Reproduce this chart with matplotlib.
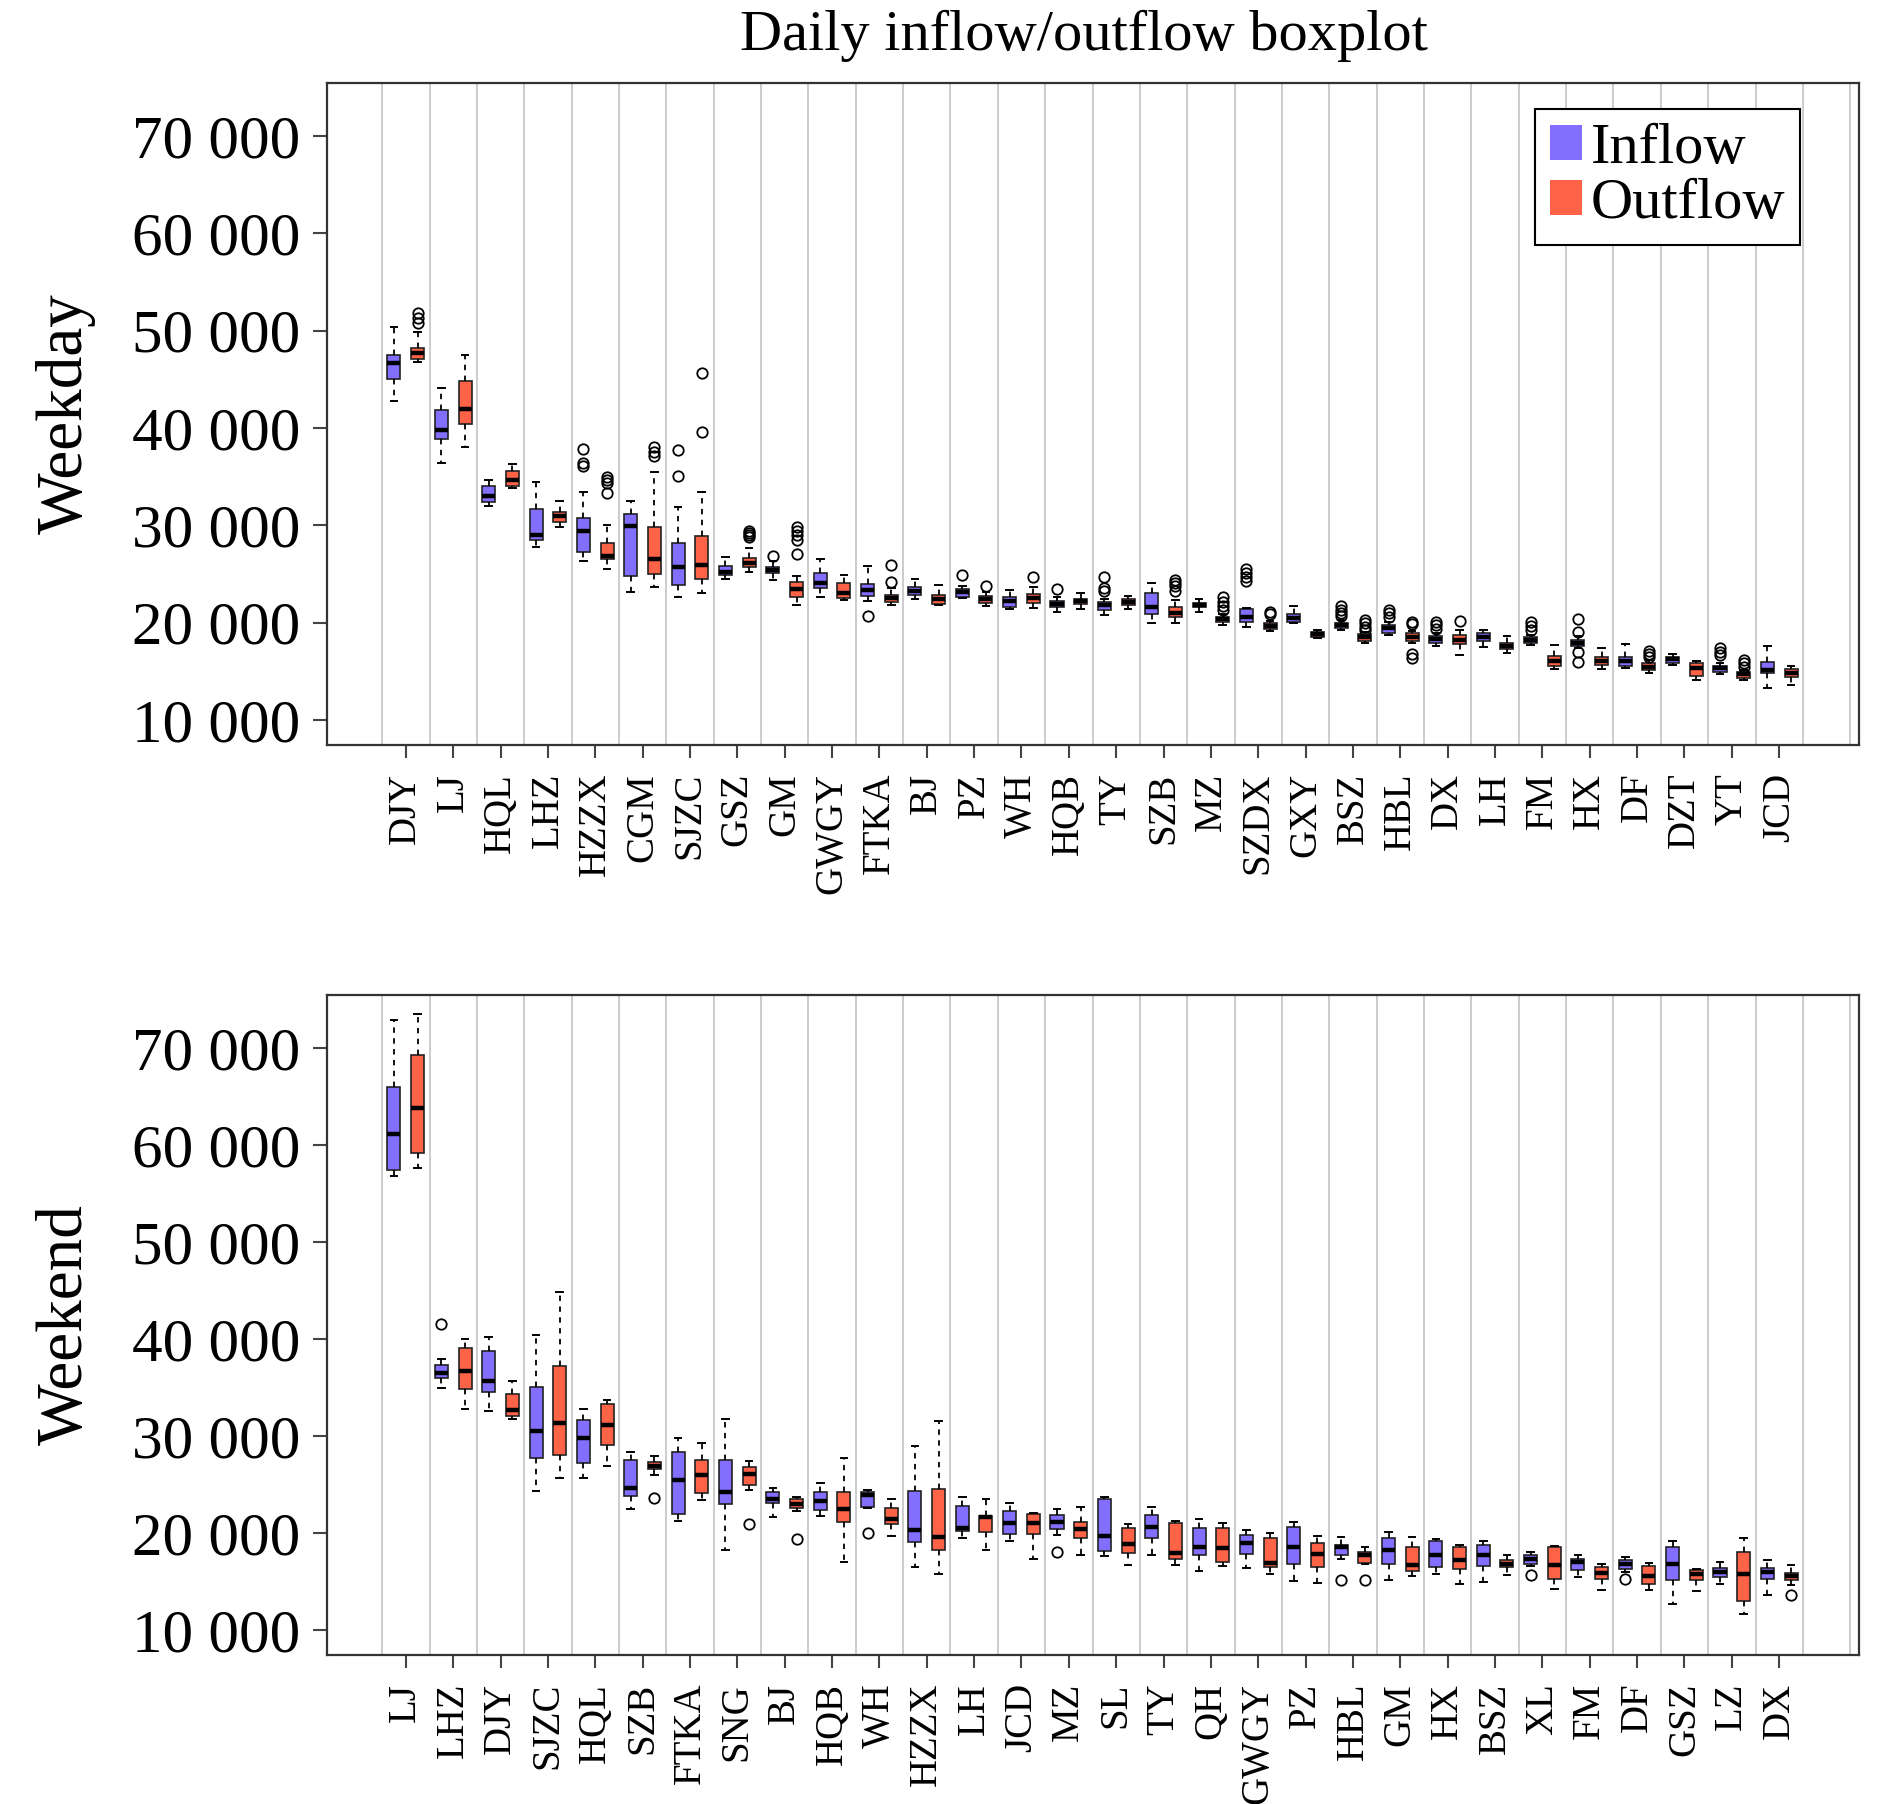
import matplotlib
matplotlib.use("Agg")
import matplotlib.pyplot as plt
from matplotlib.patches import Patch
from matplotlib.ticker import FuncFormatter

plt.rcParams['font.family'] = ['Liberation Serif', 'DejaVu Serif']

# ---- data (whislo, q1, med, q3, whishi) ----
wd_labels = ['DJY', 'LJ', 'HQL', 'LHZ', 'HZZX', 'CGM', 'SJZC', 'GSZ', 'GM', 'GWGY',
             'FTKA', 'BJ', 'PZ', 'WH', 'HQB', 'TY', 'SZB', 'MZ', 'SZDX', 'GXY',
             'BSZ', 'HBL', 'DX', 'LH', 'FM', 'HX', 'DF', 'DZT', 'YT', 'JCD']
wd_in = [(42800, 45000, 46640, 47500, 50400), (36440, 38840, 39800, 41900, 44150),
         (31990, 32430, 33050, 34040, 34660), (27800, 28490, 29040, 31710, 34490),
         (26370, 27230, 29450, 30790, 33460), (23180, 24800, 29930, 31130, 32500),
         (22670, 23840, 25750, 28220, 31920), (24490, 24900, 25170, 25860, 26710),
         (24380, 25070, 25410, 25750, 26300), (22640, 23530, 24100, 25150, 26550),
         (22200, 22780, 23350, 23970, 25800), (22400, 22840, 23285, 23695, 24500),
         (22490, 22670, 23200, 23420, 23750), (21370, 21572, 22258, 22671, 23347),
         (21128, 21643, 21915, 22217, 22641), (20785, 21300, 21814, 22086, 22439),
         (19929, 20887, 21643, 23014, 24103), (21128, 21572, 21814, 22056, 22429),
         (19515, 20100, 20614, 21400, 21532), (19929, 20100, 20513, 20856, 21743),
         (19243, 19485, 19757, 20000, 20322), (18708, 18971, 19414, 19757, 20120),
         (17600, 17942, 18285, 18628, 18910), (17529, 18143, 18557, 18971, 19243),
         (17700, 17871, 18214, 18486, 18708), (17398, 17600, 17942, 18214, 18608),
         (15380, 15542, 16087, 16500, 17771), (15633, 15815, 16228, 16500, 16772),
         (14776, 14957, 15300, 15542, 15885), (13243, 14786, 15129, 15986, 17600)]
wd_in_out = [[], [], [], [], [36130, 36440, 37810], [], [35100, 37740], [], [26850], [],
             [20650], [], [24890], [], [23417], [23286, 23518, 24718], [], [],
             [24315, 24718, 25132, 25505], [], [20685, 20957, 21300, 21703],
             [20614, 20957, 21300], [19314, 19757, 20100], [], [19243, 19656, 20100],
             [15986, 17015, 19071, 20342], [], [], [16672, 17015, 17357], []]
wd_out = [(46800, 47100, 47740, 48250, 49900), (38080, 40380, 41950, 44860, 47500),
          (33800, 34070, 34660, 35620, 36270), (29860, 30380, 30960, 31340, 32500),
          (25480, 26510, 26880, 28150, 30030), (23700, 25000, 26510, 29790, 35510),
          (23010, 24450, 25920, 28940, 33390), (25170, 25750, 26160, 26680, 27640),
          (21820, 22670, 23420, 24210, 24800), (22300, 22550, 23100, 24100, 24900),
          (21810, 22085, 22495, 22840, 23523), (21780, 21950, 22410, 22840, 23866),
          (21710, 21985, 22420, 22742, 23185), (21471, 21985, 22500, 22943, 23700),
          (21401, 21915, 22258, 22429, 23075), (21370, 21814, 22157, 22399, 22742),
          (19929, 20614, 21028, 21572, 22328), (19757, 20029, 20342, 20614, 20927),
          (19112, 19314, 19656, 20000, 20221), (18406, 18557, 18799, 19000, 19243),
          (17871, 18143, 18557, 18829, 19011), (17871, 18143, 18557, 18900, 19112),
          (16671, 17801, 18214, 18729, 19213), (16843, 17257, 17600, 17942, 18628),
          (15230, 15542, 16087, 16571, 17700), (15230, 15643, 16087, 16430, 17357),
          (14786, 15129, 15471, 15815, 16188), (14100, 14514, 15300, 15885, 16087),
          (14070, 14271, 14715, 14957, 15179), (13586, 14443, 14856, 15200, 15583)]
wd_out_out = [[50800, 51300, 51800], [], [], [], [33290, 34320, 34660, 35000],
              [37120, 37570, 38080], [39590, 45680], [28800, 29000, 29200, 29450],
              [27050, 28500, 29000, 29400, 29860], [], [24208, 25920], [], [23800],
              [24718], [], [], [23246, 23750, 24052, 24375], [21300, 21703, 22157, 22600],
              [20887, 21128], [], [19243, 19586, 19929, 20271],
              [16328, 16772, 19858, 20100], [20201], [], [], [],
              [16430, 16772, 17085], [], [15401, 15815, 16157], []]

we_labels = ['LJ', 'LHZ', 'DJY', 'SJZC', 'HQL', 'SZB', 'FTKA', 'SNG', 'BJ', 'HQB',
             'WH', 'HZZX', 'LH', 'JCD', 'MZ', 'SL', 'TY', 'QH', 'GWGY', 'PZ',
             'HBL', 'GM', 'HX', 'BSZ', 'XL', 'FM', 'DF', 'GSZ', 'LZ', 'DX']
we_in = [(56816, 57446, 61143, 65974, 72905), (34960, 35990, 36470, 37360, 37943),
         (32561, 34515, 35646, 38800, 40171), (24334, 27728, 30505, 35030, 40446),
         (25671, 27213, 29785, 31601, 32733), (22517, 23786, 24643, 27488, 28345),
         (21249, 22003, 25431, 28345, 29819), (18232, 23032, 24231, 27488, 31773),
         (21653, 23127, 23541, 24178, 24592), (21744, 22370, 23339, 24178, 25102),
         (22550, 22703, 23966, 24178, 24470), (16483, 19053, 20320, 24369, 29004),
         (19502, 20254, 20532, 22824, 23753), (19159, 19916, 21007, 22309, 23067),
         (19805, 20431, 21178, 21865, 22481), (17583, 18098, 19739, 23510, 23683),
         (17684, 19472, 20597, 21865, 22724), (16068, 17785, 18608, 20532, 21456),
         (16382, 17856, 18951, 19805, 20320), (15039, 16826, 18542, 20663, 21113),
         (17341, 17785, 18542, 18815, 19633), (15180, 16826, 18300, 19502, 20148),
         (15796, 16483, 17684, 19159, 19421), (14937, 16553, 17785, 18815, 19159),
         (16594, 16826, 17341, 17785, 18007), (15452, 16139, 16997, 17341, 17684),
         (15988, 16311, 16755, 17170, 17578), (12706, 15109, 16826, 18608, 19159),
         (14766, 15452, 15968, 16382, 16998), (13564, 15281, 15968, 16382, 17235)]
we_in_out = [[], [41543], [], [], [], [], [], [], [], [], [19977], [], [], [], [18028],
             [], [], [], [], [], [15180], [], [], [], [15624], [], [15210], [], [], []]
we_out = [(57572, 59167, 63789, 69251, 73451), (32733, 34790, 36675, 39074, 40000),
          (31704, 32047, 32698, 34275, 35715), (25671, 28070, 31361, 37189, 44800),
          (26871, 29030, 31087, 33247, 33658), (25945, 26562, 26871, 27317, 27899),
          (23374, 24128, 26014, 27488, 29270), (24384, 24975, 26048, 26850, 27408),
          (22290, 22622, 23036, 23460, 23660), (17040, 21108, 22490, 24258, 27742),
          (19683, 20895, 21440, 22582, 23460), (15796, 18199, 19573, 24541, 31574),
          (18265, 20083, 21622, 21794, 23510), (17341, 19916, 21007, 21966, 22047),
          (17684, 19472, 20431, 21178, 22653), (16654, 17921, 18881, 20532, 20941),
          (16654, 17341, 17921, 21007, 21284), (16584, 16997, 18436, 20496, 21007),
          (15796, 16483, 16897, 19502, 19976), (14836, 16483, 17856, 18951, 19739),
          (16796, 16927, 17684, 18028, 18542), (15523, 16068, 16654, 18608, 19573),
          (14766, 16240, 17169, 18542, 18815), (15624, 16483, 16826, 17235, 17785),
          (14251, 15281, 16654, 18608, 18650), (14079, 15281, 15867, 16483, 16755),
          (14150, 14766, 15523, 16553, 16897), (14009, 15109, 15796, 16139, 16311),
          (11676, 12948, 15725, 18028, 19466), (14594, 15109, 15523, 15897, 16654)]
we_out_out = [[], [], [], [], [], [23649], [], [20900], [19345], [], [], [], [], [], [],
              [], [], [], [], [], [15109], [], [], [], [], [], [], [], [], [13564]]

y_ticks = [10000, 20000, 30000, 40000, 50000, 60000, 70000]

IN_COLOR = '#836fff'
OUT_COLOR = '#ff6347'


def make_stats(rows, fliers):
    out = []
    for (lo, q1, med, q3, hi), fl in zip(rows, fliers):
        out.append(dict(whislo=lo, q1=q1, med=med, q3=q3, whishi=hi, fliers=fl))
    return out


def draw_panel(ax, labels, st_in, fl_in, st_out, fl_out, ylabel):
    n = len(labels)
    for k in range(n + 2):
        ax.axvline(0.5 + 2 * k, color='#c8c8c8', lw=1.3, zorder=0)
    common = dict(patch_artist=True, widths=0.55, capwidths=0.28,
                  medianprops=dict(color='black', linewidth=3.2),
                  whiskerprops=dict(color='black', linestyle=(0, (3, 3)), linewidth=1.3),
                  capprops=dict(color='black', linewidth=1.4),
                  flierprops=dict(marker='o', markerfacecolor='none',
                                  markeredgecolor='black', markersize=7.5,
                                  markeredgewidth=1.3))
    ax.bxp(make_stats(st_in, fl_in), positions=[2 * k + 1 for k in range(n)],
           boxprops=dict(facecolor=IN_COLOR, edgecolor='#222222', linewidth=1.2),
           **common)
    ax.bxp(make_stats(st_out, fl_out), positions=[2 * k + 2 for k in range(n)],
           boxprops=dict(facecolor=OUT_COLOR, edgecolor='#222222', linewidth=1.2),
           **common)
    ax.set_xlim(-1.83, 62.87)
    ax.set_ylim(7430, 75450)
    ax.set_xticks([2 * k + 1.5 for k in range(n)])
    ax.set_xticklabels(labels, rotation=90, fontsize=28)
    ax.set_yticks(y_ticks)
    ax.yaxis.set_major_formatter(FuncFormatter(lambda v, p: f'{int(v):,}'.replace(',', ' ')))
    ax.tick_params(axis='y', labelsize=44, length=10, width=1.5, color='#444444', pad=9)
    ax.tick_params(axis='x', length=9, width=1.5, color='#444444', pad=11)
    for s in ax.spines.values():
        s.set_color('#333333')
        s.set_linewidth(1.6)
    pos = ax.get_position()
    fig.text(0.035, pos.y0 + pos.height / 2, ylabel, rotation=90, fontsize=47,
             ha='center', va='center')


fig = plt.figure(figsize=(18.9, 18.04), dpi=100)
ax1 = fig.add_axes([0.173, 0.587, 0.8106, 0.367])
ax2 = fig.add_axes([0.173, 0.0826, 0.8106, 0.3659])

draw_panel(ax1, wd_labels, wd_in, wd_in_out, wd_out, wd_out_out, 'Weekday')
draw_panel(ax2, we_labels, we_in, we_in_out, we_out, we_out_out, 'Weekend')

handles = [Patch(facecolor=IN_COLOR, edgecolor='none', label='Inflow'),
           Patch(facecolor=OUT_COLOR, edgecolor='none', label='Outflow')]
leg = ax1.legend(handles=handles, loc='upper right', bbox_to_anchor=(0.9615, 0.961),
                 borderaxespad=0, fontsize=42, fancybox=False, framealpha=1,
                 handlelength=0.55, handleheight=0.55, handletextpad=0.15,
                 labelspacing=0.05, borderpad=0.25)
leg.get_frame().set_edgecolor('black')
leg.get_frame().set_linewidth(1.5)

fig.text(0.5735, 0.980, 'Daily inflow/outflow boxplot', fontsize=42, ha='center', va='center')

fig.savefig('out.png', dpi=100)
